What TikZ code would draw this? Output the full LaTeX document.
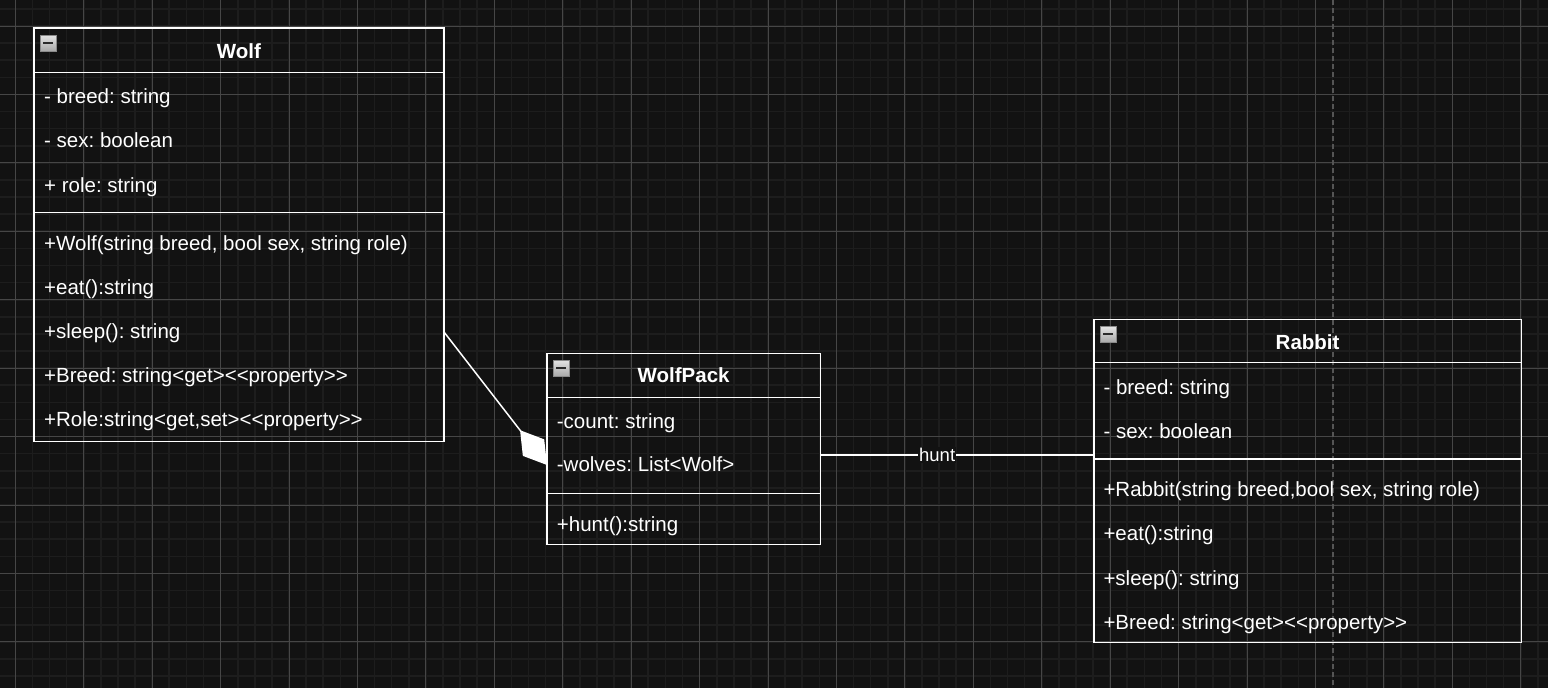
\documentclass[tikz,border=0pt]{standalone}
\usepackage{fontspec}
\setmainfont{Liberation Sans}[Ligatures=ResetAll]
\usetikzlibrary{arrows.meta}
\definecolor{bg}{HTML}{121212}
\definecolor{minorc}{HTML}{1D1D1D}
\definecolor{majorc}{HTML}{464646}
\definecolor{breakc}{HTML}{555555}
\definecolor{iconbd}{HTML}{8A8A8A}
\definecolor{icontop}{HTML}{E4E4E4}
\definecolor{iconbot}{HTML}{A8A8A8}
\definecolor{iconbar}{HTML}{2A2A2A}
\frenchspacing
\begin{document}
\begin{tikzpicture}[x=1pt,y=-1pt,
  txt/.style={anchor=base west, inner sep=0pt, text=white, font=\fontsize{20.5}{24}\selectfont},
  ttl/.style={anchor=base, inner sep=0pt, text=white, font=\fontsize{20.5}{24}\selectfont\bfseries},
  umlbox/.style={draw=white, line width=1.5pt, anchor=north west, inner sep=0pt, outer sep=0pt},
  divider/.style={draw=white, line width=1.5pt},
  conn/.style={draw=white, line width=1.5pt},
  lbl/.style={fill=bg, inner sep=1pt, text=white, font=\fontsize{18.5}{20}\selectfont},
  minorgrid/.style={draw=minorc, line width=1.6pt},
  majorgrid/.style={draw=majorc, line width=0.9pt},
  pagebreak/.style={draw=breakc, line width=1.5pt, dash pattern=on 5pt off 3pt},
  umlicon/.style={minimum size=16pt, inner sep=0pt, draw=iconbd, line width=0.6pt,
    top color=icontop, bottom color=iconbot,
    path picture={\draw[iconbar, line width=2pt]
      ([xshift=-5pt]path picture bounding box.center) -- ([xshift=5pt]path picture bounding box.center);}}
]
\useasboundingbox (0,0) rectangle (1548,688);
\fill[bg] (0,0) rectangle (1548,688);
% grid
\foreach \i in {-1,...,89} {\draw[minorgrid] ({15.3+17.1075*\i},0) -- ({15.3+17.1075*\i},688);}
\foreach \j in {-2,...,39} {\draw[minorgrid] (0,{26+17.1075*\j}) -- (1548,{26+17.1075*\j});}
\foreach \i in {0,...,22} {\draw[majorgrid] ({15.3+68.43*\i},0) -- ({15.3+68.43*\i},688);}
\foreach \j in {0,...,9} {\draw[majorgrid] (0,{26+68.43*\j}) -- (1548,{26+68.43*\j});}
\draw[pagebreak] (1333,0) -- (1333,688);

% Wolf
\node[umlbox, minimum width=410pt, minimum height=413.5pt] (wolf) at (34,28) {};
\draw[divider] (wolf.west |- 0,72.5) -- (wolf.east |- 0,72.5);
\draw[divider] (wolf.west |- 0,212.7) -- (wolf.east |- 0,212.7);
\node[umlicon] (wolfic) at (48,43) {};
\node[ttl] (wolft) at (239,58.3) {Wolf};
\node[txt] (w1) at (44,103.3) {- breed: string};
\node[txt] (w2) at (44,147.7) {- sex: boolean};
\node[txt] (w3) at (44,192.2) {+ role: string};
\node[txt] (w4) at (44,250) {+Wolf(string breed, bool sex, string role)};
\node[txt] (w5) at (44,294.7) {+eat():string};
\node[txt] (w6) at (44,338.5) {+sleep(): string};
\node[txt] (w7) at (44,382.2) {+Breed: string<get><{}<property>{}>};
\node[txt] (w8) at (44,426.7) {+Role:string<get,set><{}<property>{}>};

% WolfPack
\node[umlbox, minimum width=273.3pt, minimum height=191pt] (wp) at (547,353.3) {};
\draw[divider] (wp.west |- 0,397.7) -- (wp.east |- 0,397.7);
\draw[divider] (wp.west |- 0,493.3) -- (wp.east |- 0,493.3);
\node[umlicon] (wpic) at (561,368) {};
\node[ttl] (wpt) at (683.6,382.7) {WolfPack};
\node[txt] (p1) at (556.7,428.3) {-count: string};
\node[txt] (p2) at (556.7,471.7) {-wolves: List<Wolf>};
\node[txt] (p3) at (556.7,531) {+hunt():string};

% Rabbit
\node[umlbox, minimum width=427.3pt, minimum height=323.4pt] (rab) at (1094,319.3) {};
\draw[divider] (rab.west |- 0,362.7) -- (rab.east |- 0,362.7);
\draw[divider] (rab.west |- 0,459) -- (rab.east |- 0,459);
\node[umlicon] (rabic) at (1108,334.3) {};
\node[ttl] (rabt) at (1307.6,349.3) {Rabbit};
\node[txt] (r1) at (1103.3,394) {- breed: string};
\node[txt] (r2) at (1103.3,438.3) {- sex: boolean};
\node[txt] (r3) at (1103.3,496.7) {+Rabbit(string breed,bool sex, string role)};
\node[txt] (r4) at (1103.3,540.7) {+eat():string};
\node[txt] (r5) at (1103.3,585.3) {+sleep(): string};
\node[txt] (r6) at (1103.3,629.3) {+Breed: string<get><{}<property>{}>};

% connectors
\coordinate (c1) at (wolf.east |- 0,332);
\coordinate (c2) at (wp.west |- 0,465);
\draw[conn, -{Diamond[length=44pt, width=27pt, fill=white]}] (c1) -- (c2);
\coordinate (h1) at (wp.east |- 0,455);
\coordinate (h2) at (rab.west |- 0,455);
\draw[conn] (h1) -- node[lbl, pos=0.427] (huntl) {hunt} (h2);
\end{tikzpicture}
\end{document}
